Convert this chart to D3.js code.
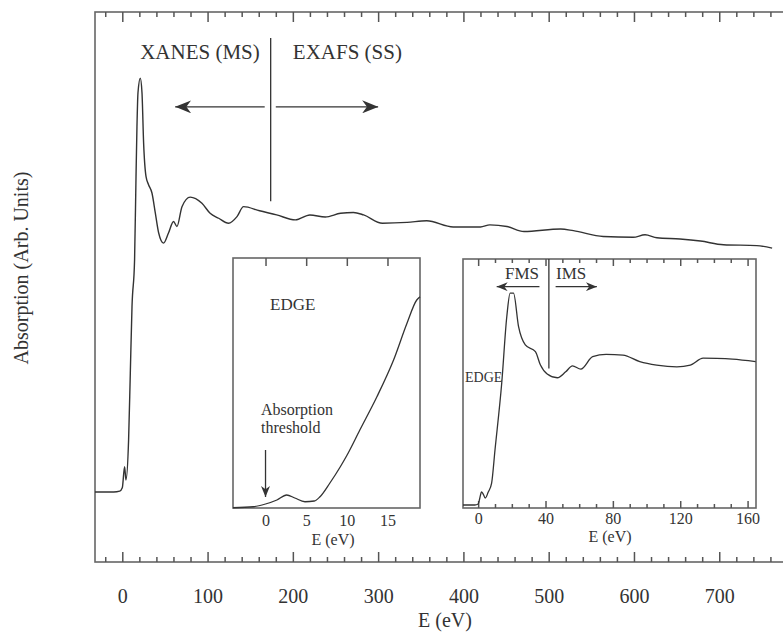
<!DOCTYPE html>
<html>
<head>
<meta charset="utf-8">
<script src="https://cdn.jsdelivr.net/npm/d3@7/dist/d3.min.js"></script>
<style>
  html, body { margin: 0; padding: 0; background: #fff; overflow: hidden; }
  text { font-family: "Liberation Serif", "Times New Roman", serif; fill: #333; }
</style>
</head>
<body>
<script>
// main spectrum, E in eV, absorption in arbitrary units
const mainE = [-32, -10, -3, 0, 2.7, 4.3, 7.4, 9.4, 11.4, 14.4, 16.1, 17.2, 18.4, 21.1, 23.1, 25, 27.8, 30.8, 34.8, 38.7, 42.6, 48.4, 54.3, 60.1, 64.1, 70, 79.7, 93.4, 103, 113, 124.6, 134.5, 142.2, 161, 181, 203, 220, 238, 256, 271, 283, 305, 334, 357, 388, 420, 431, 451, 471, 514, 529, 564, 599, 613, 627, 654, 678, 705, 744, 762];
const mainA = [0, 0, 0.002, 0.01, 0.061, 0.029, 0.126, 0.287, 0.448, 0.56, 0.762, 0.882, 0.964, 0.999, 0.964, 0.843, 0.762, 0.742, 0.722, 0.674, 0.626, 0.601, 0.626, 0.653, 0.641, 0.689, 0.712, 0.697, 0.673, 0.661, 0.649, 0.665, 0.689, 0.679, 0.669, 0.657, 0.669, 0.664, 0.673, 0.675, 0.669, 0.649, 0.651, 0.655, 0.64, 0.64, 0.645, 0.641, 0.629, 0.635, 0.631, 0.617, 0.615, 0.621, 0.614, 0.611, 0.606, 0.597, 0.595, 0.589];

// inset: edge region
const edgeE = [-4, -1.5, 0, 1.4, 2.6, 3.6, 4.85, 6, 6.7, 7.9, 9.2, 10, 11.6, 13.7, 15.75, 17.4, 18.6, 19];
const edgeA = [0.001, 0.005, 0.016, 0.032, 0.052, 0.04, 0.025, 0.028, 0.045, 0.099, 0.165, 0.21, 0.312, 0.445, 0.592, 0.739, 0.832, 0.845];

// inset: XANES region
const xanesE = [-9, -2, 0, 1, 2, 3, 4.2, 6, 8, 10, 14, 17, 19, 21, 24, 28, 34, 37, 41, 47, 52, 56, 61, 68, 76, 86, 96, 106, 118, 126, 133.6, 141.6, 151, 164.8];
const xanesA = [0.012, 0.012, 0.016, 0.04, 0.065, 0.056, 0.04, 0.064, 0.1, 0.233, 0.502, 0.768, 0.863, 0.863, 0.728, 0.655, 0.628, 0.574, 0.538, 0.523, 0.547, 0.571, 0.558, 0.608, 0.617, 0.614, 0.588, 0.574, 0.567, 0.574, 0.602, 0.601, 0.598, 0.588];

const mainTicks = [0, 100, 200, 300, 400, 500, 600, 700];
const edgeTicks = [0, 5, 10, 15];
const xanesTicks = [0, 40, 80, 120, 160];

const W = 783, H = 632;
const ink = "#333", frame = "#666", tickInk = "#555";

const svg = d3.select("body").append("svg")
    .attr("width", W)
    .attr("height", H);

const defs = svg.append("defs");
function addMarker(id, len, half) {
    defs.append("marker")
        .attr("id", id)
        .attr("markerUnits", "userSpaceOnUse")
        .attr("viewBox", `0 ${-half} ${len} ${half * 2}`)
        .attr("refX", len)
        .attr("refY", 0)
        .attr("markerWidth", len)
        .attr("markerHeight", half * 2)
        .attr("orient", "auto")
        .append("path")
        .attr("d", `M0,${-half} L${len},0 L0,${half} L${len * 0.3},0 Z`)
        .attr("fill", ink);
}
addMarker("bigArrow", 16, 6.5);
addMarker("smallArrow", 11, 4.5);

function zip(a, b) { return a.map((v, i) => [v, b[i]]); }

function styleAxis(g) {
    g.select(".domain").remove();
    g.selectAll(".tick line").attr("stroke", tickInk).attr("stroke-width", 1.5);
    g.selectAll(".tick text").attr("fill", ink).attr("font-family", "Liberation Serif, serif");
}

// ---------- main plot ----------
const x = d3.scaleLinear().domain([-32, 790]).range([95, 796]);
const y = d3.scaleLinear().domain([-0.169, 1.159]).range([562, 12]);

const main = svg.append("g");
main.append("rect")
    .attr("x", x.range()[0]).attr("y", y.range()[1])
    .attr("width", x.range()[1] - x.range()[0])
    .attr("height", y.range()[0] - y.range()[1])
    .attr("fill", "none").attr("stroke", frame).attr("stroke-width", 1.6);

const minorMain = d3.range(-20, 790, 20).filter(d => d % 100 !== 0);

main.append("g").attr("transform", `translate(0,${y.range()[0]})`)
    .call(d3.axisBottom(x).tickValues(mainTicks).tickSizeInner(-10).tickSizeOuter(0).tickPadding(27))
    .call(styleAxis)
    .selectAll("text").attr("font-size", 20);
main.append("g").attr("transform", `translate(0,${y.range()[0]})`)
    .call(d3.axisBottom(x).tickValues(minorMain).tickSizeInner(-5).tickSizeOuter(0).tickFormat(""))
    .call(styleAxis);
main.append("g").attr("transform", `translate(0,${y.range()[1]})`)
    .call(d3.axisTop(x).tickValues(mainTicks).tickSizeInner(-10).tickSizeOuter(0).tickFormat(""))
    .call(styleAxis);
main.append("g").attr("transform", `translate(0,${y.range()[1]})`)
    .call(d3.axisTop(x).tickValues(minorMain).tickSizeInner(-5).tickSizeOuter(0).tickFormat(""))
    .call(styleAxis);

const mainLine = d3.line().x(d => x(d[0])).y(d => y(d[1])).curve(d3.curveMonotoneX);
main.append("path")
    .datum(zip(mainE, mainA))
    .attr("d", mainLine)
    .attr("fill", "none").attr("stroke", ink).attr("stroke-width", 1.4);

// XANES / EXAFS annotation
main.append("line")
    .attr("x1", x(174)).attr("x2", x(174))
    .attr("y1", y(1.096)).attr("y2", y(0.702))
    .attr("stroke", ink).attr("stroke-width", 1.3);
main.append("line")
    .attr("x1", x(167)).attr("x2", x(62))
    .attr("y1", y(0.93)).attr("y2", y(0.93))
    .attr("stroke", ink).attr("stroke-width", 1.3).attr("marker-end", "url(#bigArrow)");
main.append("line")
    .attr("x1", x(180)).attr("x2", x(300))
    .attr("y1", y(0.93)).attr("y2", y(0.93))
    .attr("stroke", ink).attr("stroke-width", 1.3).attr("marker-end", "url(#bigArrow)");
main.append("text").attr("x", x(21)).attr("y", 59).attr("font-size", 21).text("XANES (MS)");
main.append("text").attr("x", x(200)).attr("y", 59).attr("font-size", 21).text("EXAFS (SS)");

svg.append("text")
    .attr("transform", "translate(28,268) rotate(-90)")
    .attr("text-anchor", "middle").attr("font-size", 20)
    .text("Absorption (Arb. Units)");
svg.append("text")
    .attr("x", 445).attr("y", 627)
    .attr("text-anchor", "middle").attr("font-size", 20)
    .text("E (eV)");

// ---------- inset 1: edge ----------
const x1 = d3.scaleLinear().domain([-4, 19]).range([233, 420]);
const y1 = d3.scaleLinear().domain([0, 1]).range([508, 258]);
const in1 = svg.append("g");
in1.append("rect")
    .attr("x", 233).attr("y", 258).attr("width", 187).attr("height", 250)
    .attr("fill", "#fff").attr("stroke", frame).attr("stroke-width", 1.6);
in1.append("g").attr("transform", `translate(0,${y1.range()[1]})`)
    .call(d3.axisTop(x1).tickValues(edgeTicks).tickSizeInner(-8).tickSizeOuter(0).tickFormat(""))
    .call(styleAxis);
in1.append("g").attr("transform", `translate(0,${y1.range()[0]})`)
    .call(d3.axisBottom(x1).tickValues(edgeTicks).tickSize(0).tickPadding(7))
    .call(styleAxis)
    .selectAll("text").attr("font-size", 16);
in1.append("path")
    .datum(zip(edgeE, edgeA))
    .attr("d", d3.line().x(d => x1(d[0])).y(d => y1(d[1])).curve(d3.curveMonotoneX))
    .attr("fill", "none").attr("stroke", ink).attr("stroke-width", 1.3);
in1.append("line")
    .attr("x1", x1(0)).attr("x2", x1(0))
    .attr("y1", y1(0.232)).attr("y2", y1(0.044))
    .attr("stroke", ink).attr("stroke-width", 1.3).attr("marker-end", "url(#smallArrow)");
in1.append("text").attr("x", 270).attr("y", 310).attr("font-size", 17).text("EDGE");
in1.append("text").attr("x", 261).attr("y", 415).attr("font-size", 16).text("Absorption");
in1.append("text").attr("x", 261).attr("y", 433).attr("font-size", 16).text("threshold");
in1.append("text").attr("x", 333).attr("y", 545).attr("text-anchor", "middle").attr("font-size", 16).text("E (eV)");

// ---------- inset 2: XANES ----------
const x2 = d3.scaleLinear().domain([-9, 165]).range([463, 756]);
const y2 = d3.scaleLinear().domain([0, 1]).range([508, 259]);
const in2 = svg.append("g");
in2.append("rect")
    .attr("x", 463).attr("y", 259).attr("width", 293).attr("height", 249)
    .attr("fill", "#fff").attr("stroke", frame).attr("stroke-width", 1.6);
const minorX2 = d3.range(0, 165, 10).filter(d => d % 40 !== 0);
[[y2.range()[0], d3.axisBottom], [y2.range()[1], d3.axisTop]].forEach(([yy, ax]) => {
    in2.append("g").attr("transform", `translate(0,${yy})`)
        .call(ax(x2).tickValues(xanesTicks).tickSizeInner(-7).tickSizeOuter(0).tickFormat(""))
        .call(styleAxis);
    in2.append("g").attr("transform", `translate(0,${yy})`)
        .call(ax(x2).tickValues(minorX2).tickSizeInner(-4).tickSizeOuter(0).tickFormat(""))
        .call(styleAxis);
});
in2.append("g").attr("transform", `translate(0,${y2.range()[0]})`)
    .call(d3.axisBottom(x2).tickValues(xanesTicks).tickSize(0).tickPadding(5))
    .call(styleAxis)
    .selectAll("text").attr("font-size", 16);
in2.append("path")
    .datum(zip(xanesE, xanesA))
    .attr("d", d3.line().x(d => x2(d[0])).y(d => y2(d[1])).curve(d3.curveMonotoneX))
    .attr("fill", "none").attr("stroke", ink).attr("stroke-width", 1.3);
in2.append("line")
    .attr("x1", x2(42)).attr("x2", x2(42))
    .attr("y1", y2(1)).attr("y2", y2(0.56))
    .attr("stroke", ink).attr("stroke-width", 1.3);
in2.append("line")
    .attr("x1", x2(36.4)).attr("x2", x2(11))
    .attr("y1", y2(0.889)).attr("y2", y2(0.889))
    .attr("stroke", ink).attr("stroke-width", 1.3).attr("marker-end", "url(#smallArrow)");
in2.append("line")
    .attr("x1", x2(46)).attr("x2", x2(70.5))
    .attr("y1", y2(0.889)).attr("y2", y2(0.889))
    .attr("stroke", ink).attr("stroke-width", 1.3).attr("marker-end", "url(#smallArrow)");
in2.append("text").attr("x", 505).attr("y", 279).attr("font-size", 17).text("FMS");
in2.append("text").attr("x", 556).attr("y", 279).attr("font-size", 17).text("IMS");
in2.append("text").attr("x", 465).attr("y", 382).attr("font-size", 14).text("EDGE");
in2.append("text").attr("x", 610).attr("y", 542).attr("text-anchor", "middle").attr("font-size", 16).text("E (eV)");
</script>
</body>
</html>
